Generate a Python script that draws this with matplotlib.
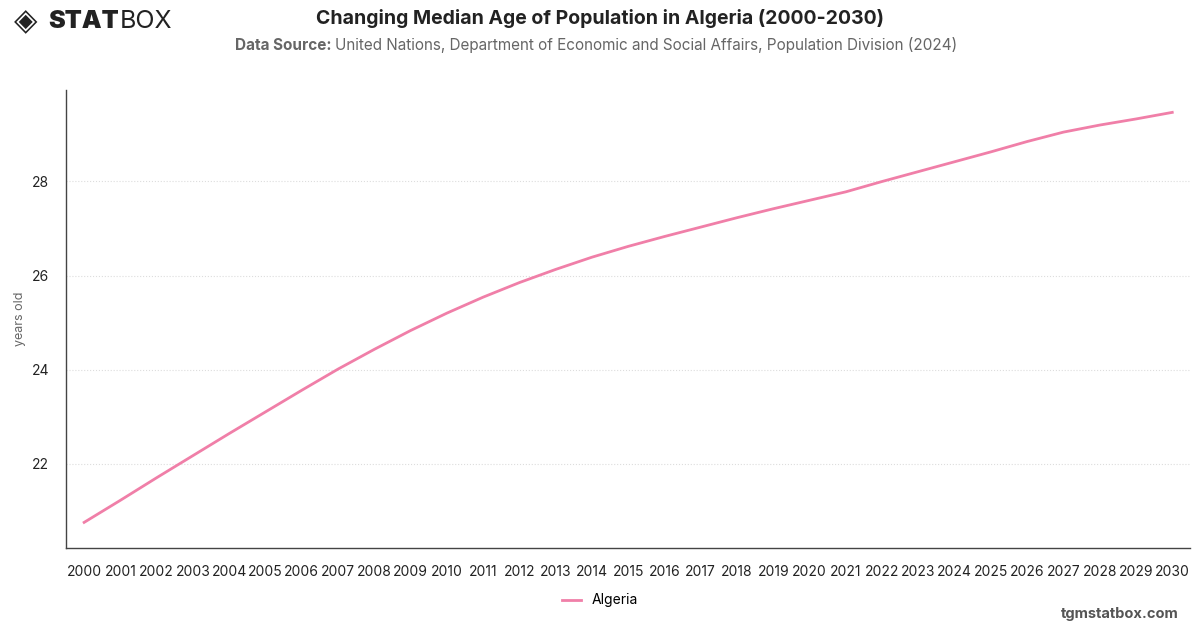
import matplotlib.pyplot as plt
from matplotlib.lines import Line2D

years = list(range(2000, 2031))
median_age = [20.75, 21.22, 21.70, 22.17, 22.64, 23.10, 23.56, 24.01, 24.43, 24.83,
              25.20, 25.54, 25.85, 26.13, 26.39, 26.62, 26.83, 27.03, 27.23, 27.42,
              27.60, 27.78, 28.00, 28.21, 28.42, 28.63, 28.85, 29.05, 29.20, 29.33, 29.47]
series_name = 'Algeria'
y_ticks = [22, 24, 26, 28]

plt.rcParams['font.family'] = ['Inter', 'DejaVu Sans']

fig = plt.figure(figsize=(12, 6.28), dpi=100)
ax = fig.add_axes([0.055, 0.127, 0.937, 0.73])

ax.plot(years, median_age, color='#f07fa8', lw=2, label=series_name)

ax.set_xlim(1999.5, 2030.5)
ax.set_ylim(20.2, 29.95)
ax.set_xticks(years)
ax.set_xticklabels([str(y) for y in years], fontsize=10, color='#222222')
ax.set_yticks(y_ticks)
ax.set_yticklabels([str(v) for v in y_ticks], fontsize=10, color='#222222')
ax.tick_params(axis='both', length=0)
ax.tick_params(axis='x', pad=12)
ax.tick_params(axis='y', pad=12)
ax.grid(axis='y', color='#dddddd', linestyle=':', lw=0.8)
ax.set_axisbelow(True)
for s in ['top', 'right']:
    ax.spines[s].set_visible(False)
for s in ['left', 'bottom']:
    ax.spines[s].set_color('#444444')
    ax.spines[s].set_linewidth(1)
ax.set_ylabel('years old', fontsize=9, color='#666666', labelpad=4)

fig.text(0.5, 0.97, 'Changing Median Age of Population in Algeria (2000-2030)',
         ha='center', va='center', fontsize=14, fontweight='bold', color='#222222')
fig.text(0.196, 0.928, 'Data Source:', ha='left', va='center', fontsize=11,
         fontweight='bold', color='#666666')
fig.text(0.279, 0.928, 'United Nations, Department of Economic and Social Affairs, Population Division (2024)',
         ha='left', va='center', fontsize=11, color='#666666')

# logo: BOX placed right after the STAT text box
fig.text(0.012, 0.965, '◈', ha='left', va='center', fontsize=22, color='#222222',
         family=['DejaVu Sans'])
stat = fig.text(0.040, 0.965, 'STAT', ha='left', va='center', fontsize=18, fontweight='black',
                color='#222222')
ax.annotate('BOX', xy=(1, 0.5), xycoords=stat, xytext=(1, 0), textcoords='offset points',
            ha='left', va='center', fontsize=18, color='#222222', annotation_clip=False)

handle = Line2D([], [], color='#f07fa8', lw=2)
fig.legend([handle], [series_name], loc='center', bbox_to_anchor=(0.5, 0.044),
           frameon=False, fontsize=10, handlelength=1.4)

fig.text(0.982, 0.022, 'tgmstatbox.com', ha='right', va='center', fontsize=10.5,
         fontweight='bold', color='#555555')

fig.savefig('out.png', dpi=100)
